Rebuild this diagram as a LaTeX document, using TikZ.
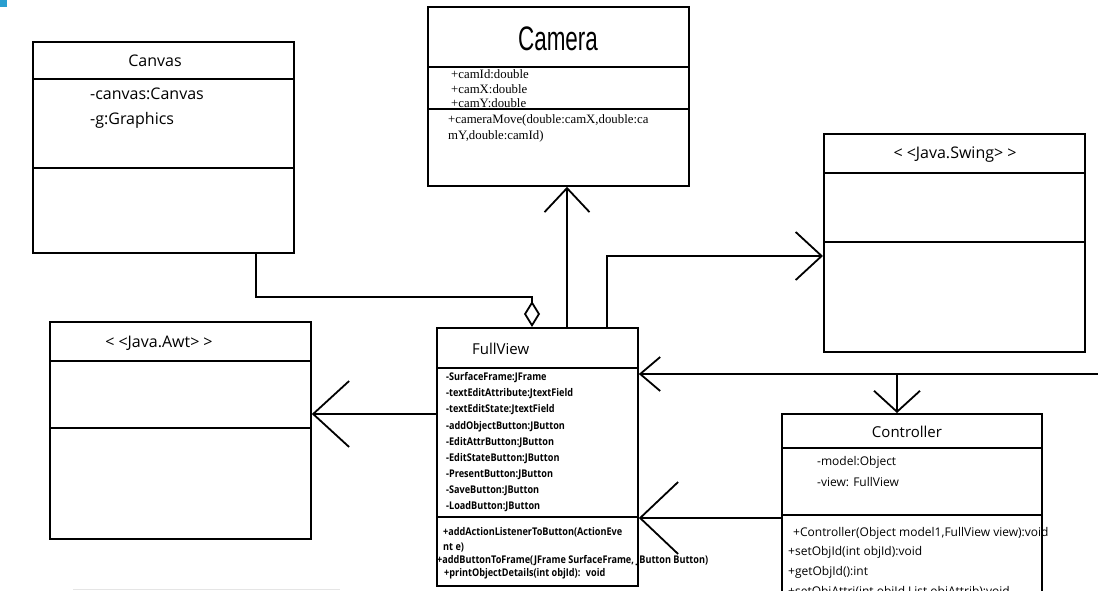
\documentclass[tikz,border=0pt]{standalone}
\usepackage{fontspec}
\setmainfont{Open Sans}
\newfontfamily\boldcond[FakeStretch=0.86]{Open Sans}
\newfontfamily\camtitle[FakeStretch=0.66]{Liberation Sans}
\newfontfamily\serifattr{Liberation Serif}
\usetikzlibrary{arrows.meta}
\definecolor{cornerblue}{HTML}{2A9FD0}

\begin{document}
\begin{tikzpicture}[x=1pt,y=-1pt,
  cls/.style={draw, line width=1.8pt, anchor=north west, inner sep=0pt},
  sep/.style={line width=1.6pt},
  link/.style={line width=1.8pt},
  ttl/.style={inner sep=0pt, font=\fontsize{16}{18}\selectfont},
  bigattr/.style={inner sep=0pt, anchor=west, font=\fontsize{16}{18}\selectfont},
  midattr/.style={inner sep=0pt, anchor=west, font=\fontsize{12}{14}\selectfont},
  smallbold/.style={inner sep=0pt, anchor=west, font=\boldcond\bfseries\fontsize{10.6}{12}\selectfont},
  camattr/.style={inner sep=0pt, anchor=west, font=\serifattr\fontsize{12.8}{14}\selectfont},
  barb/.style={link, -{Straight Barb[length=#1]}},
]
\useasboundingbox (0,0) rectangle (1098,590);
\clip (0,0) rectangle (1098,590);

% corner mark
\fill[cornerblue] (0,0) rectangle (7,7);

% ---------- Canvas ----------
\node[cls, minimum width=261pt, minimum height=211pt] (canvas) at (32,41) {};
\draw[sep] (canvas.west |- 0,79) -- (canvas.east |- 0,79);
\draw[sep] (canvas.west |- 0,168) -- (canvas.east |- 0,168);
\node[ttl] (canvasT) at (155,61) {Canvas};
\node[bigattr] (canvasA1) at (90,94) {-canvas:Canvas};
\node[bigattr] (canvasA2) at (90,120) {-g:Graphics};

% ---------- Camera ----------
\node[cls, minimum width=261pt, minimum height=179pt] (camera) at (427,6) {};
\draw[sep] (camera.west |- 0,67) -- (camera.east |- 0,67);
\draw[sep] (camera.west |- 0,109) -- (camera.east |- 0,109);
\node[inner sep=0pt, font=\camtitle\fontsize{34}{36}\selectfont] (cameraT) at (558,39) {Camera};
\node[camattr] (cameraA1) at (451,74) {+camId:double};
\node[camattr] (cameraA2) at (451,89) {+camX:double};
\node[camattr] (cameraA3) at (451,103) {+camY:double};
\node[camattr] (cameraM1) at (448,120) {+cameraMove(double:camX,double:ca};
\node[camattr] (cameraM2) at (448,136) {mY,double:camId)};

% ---------- Java.Swing ----------
\node[cls, minimum width=261pt, minimum height=218pt] (swing) at (823,133) {};
\draw[sep] (swing.west |- 0,173) -- (swing.east |- 0,173);
\draw[sep] (swing.west |- 0,242) -- (swing.east |- 0,242);
\node[ttl] (swingT) at (955,155) {<\kern4pt<Java.Swing>\kern4pt>};

% ---------- Java.Awt ----------
\node[cls, minimum width=261pt, minimum height=217pt] (awt) at (49,321) {};
\draw[sep] (awt.west |- 0,361) -- (awt.east |- 0,361);
\draw[sep] (awt.west |- 0,428) -- (awt.east |- 0,428);
\node[ttl] (awtT) at (159,343) {<\kern4pt<Java.Awt>\kern4pt>};

% ---------- FullView ----------
\node[cls, minimum width=201pt, minimum height=258pt] (fullview) at (436,327) {};
\draw[sep] (fullview.west |- 0,368) -- (fullview.east |- 0,368);
\draw[sep] (fullview.west |- 0,517) -- (fullview.east |- 0,517);
\node[ttl, anchor=west, font=\fontsize{15}{17}\selectfont] (fullviewT) at (472,349) {FullView};
\node[smallbold] (fvA1) at (446,378) {-SurfaceFrame:JFrame};
\node[smallbold] (fvA2) at (446,394) {-textEditAttribute:JtextField};
\node[smallbold] (fvA3) at (446,410) {-textEditState:JtextField};
\node[smallbold] (fvA4) at (446,427) {-addObjectButton:JButton};
\node[smallbold] (fvA5) at (446,443) {-EditAttrButton:JButton};
\node[smallbold] (fvA6) at (446,459) {-EditStateButton:JButton};
\node[smallbold] (fvA7) at (446,475) {-PresentButton:JButton};
\node[smallbold] (fvA8) at (446,491) {-SaveButton:JButton};
\node[smallbold] (fvA9) at (446,507) {-LoadButton:JButton};
\node[smallbold] (fvM1) at (443,532) {+addActionListenerToButton(ActionEve};
\node[smallbold] (fvM2) at (443,548) {nt e)};
\node[smallbold] (fvM3) at (437,561) {+addButtonToFrame(JFrame SurfaceFrame, JButton Button)};
\node[smallbold] (fvM4) at (444,574) {+printObjectDetails(int objId):~ void};

% ---------- Controller ----------
\node[cls, minimum width=260pt, minimum height=230pt] (controller) at (781,413) {};
\draw[sep] (controller.west |- 0,448) -- (controller.east |- 0,448);
\draw[sep] (controller.west |- 0,515) -- (controller.east |- 0,515);
\node[ttl, font=\fontsize{15}{17}\selectfont] (controllerT) at (907,432) {Controller};
\node[midattr] (ctA1) at (817,462) {-model:Object};
\node[midattr] (ctA2) at (817,482) {-view: FullView};
\node[midattr] (ctM1) at (793,533) {+Controller(Object model1,FullView view):void};
\node[midattr] (ctM2) at (788,552) {+setObjId(int objId):void};
\node[midattr] (ctM3) at (788,572) {+getObjId():int};
\node[midattr] (ctM4) at (788,592) {+setObjAttri(int objId,List objAttrib):void};

% ---------- connectors ----------
\draw[link, -{Diamond[open, length=26pt, width=16pt]}]
  (canvas.south -| 256,0) |- (532,297) -- (fullview.north -| 532,0);
\draw[barb={24pt, width=45pt}] (fullview.north -| 567,0) -- (camera.south -| 567,0);
\draw[barb={26pt, width=48pt}] (fullview.north -| 607,0) |- (swing.west |- 0,256);
\draw[barb={36pt, width=66pt}] (fullview.west |- 0,414) -- (awt.east |- 0,414);

\coordinate (rin) at (1098,374);
\coordinate (jn) at (897,374);
\draw[barb={20pt, width=34pt}] (rin) -- (fullview.east |- rin);
\draw[barb={21pt, width=46pt}] (jn) -- (controller.north -| jn);
\draw[barb={38pt, width=72pt}] (controller.west |- 0,518) -- (fullview.east |- 0,518);

% faint baseline under the left column
\draw[gray!20, line width=1pt] (73,589) -- (340,589);
\end{tikzpicture}
\end{document}
